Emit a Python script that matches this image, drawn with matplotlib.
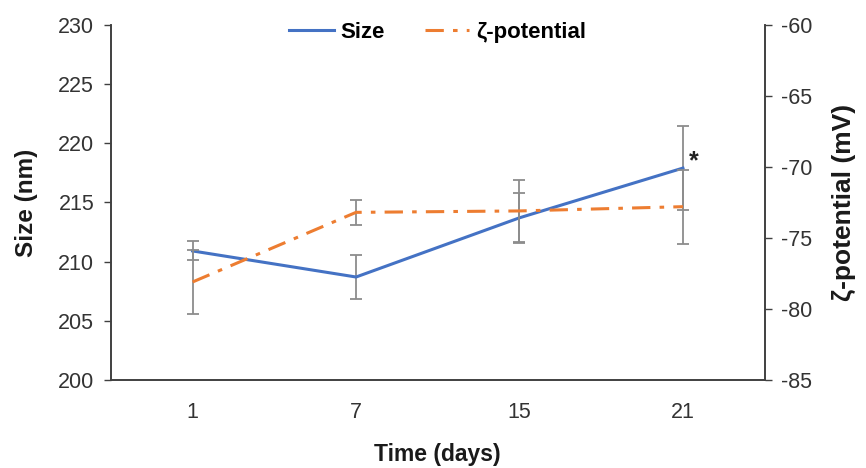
import matplotlib
matplotlib.use("Agg")
import matplotlib.pyplot as plt

days = ["1", "7", "15", "21"]
size_nm = [210.9, 208.7, 213.7, 217.9]
size_err = [0.8, 1.85, 2.1, 3.55]
zeta_mv = [-78.1, -73.2, -73.1, -72.8]
zeta_err = [2.25, 0.9, 2.2, 2.6]

plt.rcParams['font.family'] = ['Liberation Sans', 'DejaVu Sans']
plt.rcParams['axes.unicode_minus'] = False

fig = plt.figure(figsize=(8.66, 4.68), dpi=100)
ax = fig.add_axes([0.128, 0.188, 0.755, 0.759])
ax2 = ax.twinx()

x = list(range(len(days)))
blue = '#4472C4'
orange = '#ED7D31'
grey = '#8c8c8c'

ax.errorbar(x, size_nm, yerr=size_err, fmt='none', ecolor=grey, elinewidth=1.3, capsize=4, capthick=1.3, zorder=2)
ln1, = ax.plot(x, size_nm, color=blue, lw=2.2, label='Size', zorder=3)

ax2.errorbar(x, zeta_mv, yerr=zeta_err, fmt='none', ecolor=grey, elinewidth=1.3, capsize=4, capthick=1.3, zorder=2)
ln2, = ax2.plot(x, zeta_mv, color=orange, lw=2.2, dashes=[6, 3, 1.5, 3], label='ζ-potential', zorder=3)

ax.annotate('*', xy=(x[-1], size_nm[-1]), xytext=(4, -4), textcoords='offset points',
            fontsize=18, fontweight='bold', color='#222222', ha='left', va='bottom')

ax.set_xlim(-0.5, len(days) - 0.5)
ax.set_ylim(200, 230)
ax2.set_ylim(-85, -60)
ax.set_yticks(range(200, 231, 5))
ax2.set_yticks(range(-85, -59, 5))
ax.set_xticks(x)
ax.set_xticklabels(days)

for a in (ax, ax2):
    a.spines['top'].set_visible(False)
    for s in ('left', 'right', 'bottom'):
        a.spines[s].set_color('#404040')
        a.spines[s].set_linewidth(1.2)
    a.tick_params(axis='y', labelsize=15.5, colors='#404040', length=5, width=1, pad=7, labelcolor='#333333')
ax.tick_params(axis='x', length=0, labelsize=15.5, labelcolor='#333333', pad=16)

ax.set_ylabel('Size (nm)', fontsize=17.5, fontweight='bold', labelpad=14, color='#1a1a1a')
ax2.set_ylabel('ζ-potential (mV)', fontsize=19, fontweight='bold', labelpad=14, color='#1a1a1a')
ax.set_xlabel('Time (days)', fontsize=16.5, fontweight='bold', labelpad=14, color='#1a1a1a')

leg = ax.legend(handles=[ln1, ln2], loc='upper center', bbox_to_anchor=(0.5, 1.065), ncol=2,
                frameon=False, handlelength=2.0, handletextpad=0.3, columnspacing=1.8,
                prop={'size': 16, 'weight': 'bold'})

fig.savefig('out.png', dpi=100)
